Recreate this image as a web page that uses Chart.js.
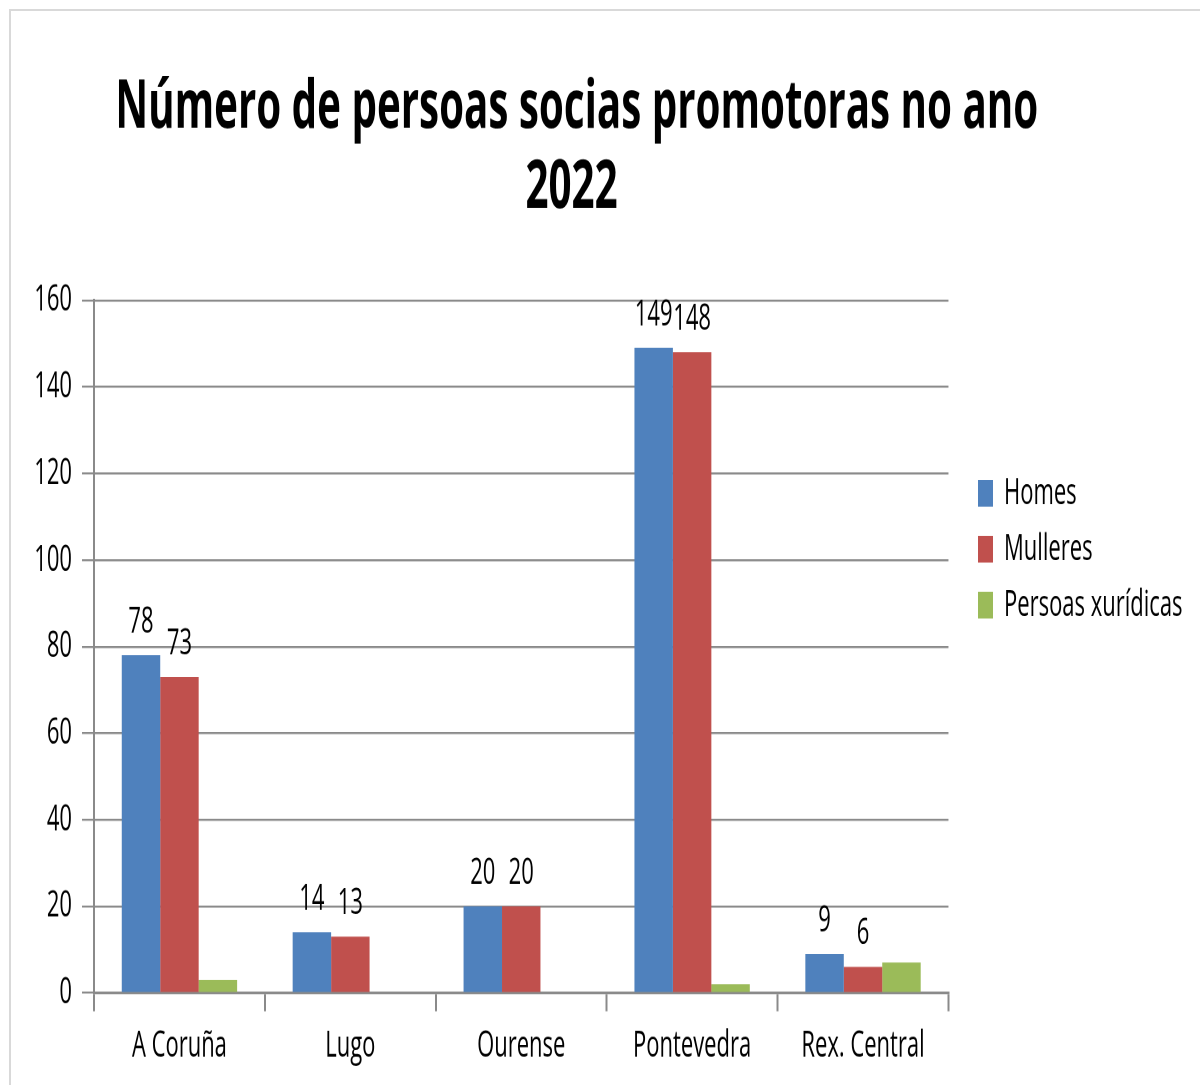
<!DOCTYPE html>
<html>
<head>
<meta charset="utf-8">
<script src="https://cdn.jsdelivr.net/npm/chart.js@4.4.1/dist/chart.umd.min.js"></script>
<style>
  html, body { margin: 0; padding: 0; background: #fff; overflow: hidden; }
  #frame { position: absolute; left: 9px; top: 9px; width: 1300px; height: 1200px;
           border-left: 2px solid #d9d9d9; border-top: 2px solid #d9d9d9; }
  #wrap { position: absolute; left: 0; top: 0; width: 1200px; height: 650px;
          transform: scaleY(1.66923); transform-origin: 0 0; }
</style>
</head>
<body>
<div id="frame"></div>
<div id="wrap"><canvas id="c"></canvas></div>
<script>
const categories = ["A Coruña", "Lugo", "Ourense", "Pontevedra", "Rex. Central"];
const homes = [78, 14, 20, 149, 9];
const mulleres = [73, 13, 20, 148, 6];
const persoasXuridicas = [3, 0, 0, 2, 7];
const seriesNames = ["Homes", "Mulleres", "Persoas xurídicas"];
const yTicks = [0, 20, 40, 60, 80, 100, 120, 140, 160];
const titleLines = ["Número de persoas socias promotoras no ano  ", "2022   "];
const labeledSeries = [0, 1];

const FONT = '"Open Sans", "Noto Sans", sans-serif';
const GRID = '#8a8a8a';

const barLabels = {
  id: 'barLabels',
  afterDatasetsDraw(chart) {
    const ctx = chart.ctx;
    ctx.save();
    ctx.font = '22px ' + FONT;
    ctx.fillStyle = '#000';
    ctx.textAlign = 'center';
    ctx.textBaseline = 'alphabetic';
    labeledSeries.forEach(i => {
      const meta = chart.getDatasetMeta(i);
      meta.data.forEach((el, j) => {
        const v = chart.data.datasets[i].data[j];
        if (v == null) return;
        ctx.fillText(String(v), el.x, el.y - 13.5);
      });
    });
    ctx.restore();
  }
};

// place the legend block with a gap from the plot area, as in the original
const legendPlace = {
  id: 'legendPlace',
  afterLayout(chart) {
    const lg = chart.legend;
    if (!lg) return;
    const dx = 966.5 - lg.left;
    lg.left += dx; lg.right += dx;
    const dy = 273 - lg.top;
    lg.top += dy; lg.bottom += dy;
  }
};

new Chart(document.getElementById('c'), {
  type: 'bar',
  data: {
    labels: categories,
    datasets: [
      { label: seriesNames[0], data: homes, backgroundColor: '#4F81BD', borderWidth: 0 },
      { label: seriesNames[1], data: mulleres, backgroundColor: '#C0504D', borderWidth: 0 },
      { label: seriesNames[2], data: persoasXuridicas, backgroundColor: '#9BBB59', borderWidth: 0 }
    ]
  },
  options: {
    responsive: true,
    maintainAspectRatio: false,
    animation: false,
    devicePixelRatio: 2,
    layout: { padding: { left: 0, right: 25.5, top: 0, bottom: 2.6 } },
    datasets: { bar: { categoryPercentage: 0.675, barPercentage: 1.0 } },
    plugins: {
      title: {
        display: true,
        text: titleLines,
        color: '#000',
        font: { family: FONT, size: 40.3, weight: 'bold', lineHeight: 1.19 },
        padding: { top: 41, bottom: 43 }
      },
      legend: {
        position: 'right',
        align: 'start',
        maxWidth: 400,
        labels: {
          color: '#000',
          font: { family: FONT, size: 22 },
          boxWidth: 15,
          boxHeight: 16,
          padding: 11.5
        }
      },
      tooltip: { enabled: false }
    },
    scales: {
      x: {
        grid: { display: true, drawOnChartArea: false, drawTicks: true, tickLength: 11, color: GRID, lineWidth: 2, offset: true },
        border: { display: true, color: GRID, width: 1.6 },
        ticks: { color: '#000', font: { family: FONT, size: 22 }, padding: 7.6, maxRotation: 0 }
      },
      y: {
        min: 0, max: 160,
        afterBuildTicks(scale) { scale.ticks = yTicks.map(v => ({ value: v })); },
        afterFit(scale) { scale.width = 94; },
        grid: { color: GRID, lineWidth: 1.2, tickLength: 12 },
        border: { display: true, color: GRID, width: 2 },
        ticks: { color: '#000', font: { family: FONT, size: 22 }, padding: 10 }
      }
    }
  },
  plugins: [barLabels, legendPlace]
});
</script>
</body>
</html>
